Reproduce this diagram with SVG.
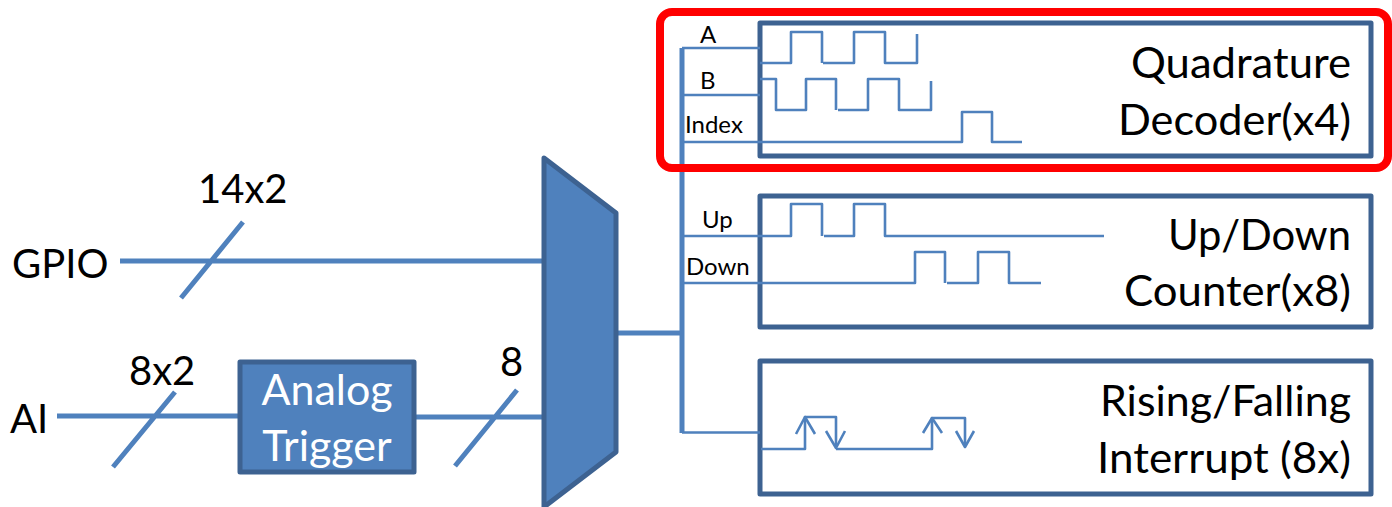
<svg xmlns="http://www.w3.org/2000/svg" width="1392" height="507" viewBox="0 0 1392 507">
<style>
text{font-family:"Lato","Open Sans","Liberation Sans",sans-serif;fill:#000}
.big{font-size:40px}
.right{font-size:42px;text-anchor:end}
.tr{font-size:43px;text-anchor:middle;fill:#fff}
.small{font-size:24px}
.box{fill:#fff;stroke:#3d6291;stroke-width:5;stroke-linejoin:round}
.fillbox{fill:#4f81bd;stroke:#3d6291;stroke-width:5;stroke-linejoin:round}
.bus{fill:none;stroke:#4f81bd;stroke-width:5;stroke-linejoin:round}
.sig{fill:none;stroke:#4f81bd;stroke-width:2.6;stroke-linejoin:round}
</style>
<rect width="1392" height="507" fill="#fff"/>
<g id="quadrature-decoder"><rect class="box" x="760" y="23" width="611" height="133"/>
<text class="right" x="1351" y="77.500" textLength="220" lengthAdjust="spacingAndGlyphs">Quadrature</text><text class="right" x="1351" y="134.500" textLength="233" lengthAdjust="spacingAndGlyphs">Decoder(x4)</text></g>
<g id="updown-counter"><rect class="box" x="760" y="196" width="611" height="131"/>
<text class="right" x="1351" y="249.500" textLength="183" lengthAdjust="spacingAndGlyphs">Up/Down</text><text class="right" x="1351" y="305.500" textLength="227" lengthAdjust="spacingAndGlyphs">Counter(x8)</text></g>
<g id="interrupt"><rect class="box" x="760" y="361" width="611" height="133"/>
<text class="right" x="1351" y="415.500" textLength="251" lengthAdjust="spacingAndGlyphs">Rising/Falling</text><text class="right" x="1351" y="472.500" textLength="254" lengthAdjust="spacingAndGlyphs">Interrupt (8x)</text></g>
<g id="connectors">
<path class="bus" d="M120 261H543M243 222L181 298M57 416H240M175 392L113 467M414 417H543M517 390L455 466M617 333H682M682 48V433"/>
<path class="sig" d="M682 48H760M682 95H760M682 142H962V112H992V142H1022M682 432.500H760"/>
<path class="sig" d="M760 63H791V32H822V63M823 63H854V32H885V63H917V34"/>
<path class="sig" d="M760 79H776V110H806V79H836V110M838 110H868V79H899V110H931V81"/>
<path class="sig" d="M682 236H791V204H822V236M824 236H854V204H885V236H1104"/>
<path class="sig" d="M682 283H915V252H945V283M947 283H978V252H1009V283H1041"/>
<path class="sig" d="M761 449H805V417H836V447M836 449H932V418H965V446"/>
<path class="sig" d="M796 434L805 417L815 434M826 431L836 448L845 431M923 433L932 418L942 433M956 431L965 447L974 431"/>
</g>
<g id="mux"><path class="fillbox" d="M544 158L616 213V452L544 507Z"/></g>
<g id="analog-trigger"><rect class="fillbox" x="240" y="362" width="174" height="110"/>
<text class="tr" x="327" y="405">Analog</text><text class="tr" x="327" y="461">Trigger</text></g>
<g id="labels">
<text class="big" x="12" y="278">GPIO</text>
<text class="big" x="198" y="203">14x2</text>
<text class="big" x="129" y="385">8x2</text>
<text class="big" x="10" y="433">AI</text>
<text class="big" x="500" y="376">8</text>
<text class="small" x="700" y="43">A</text>
<text class="small" x="700" y="89">B</text>
<text class="small" x="685" y="133">Index</text>
<text class="small" x="702" y="228">Up</text>
<text class="small" x="686" y="275">Down</text>
</g>
<g id="highlight"><rect x="660" y="12" width="728" height="156" rx="12" fill="none" stroke="#f00" stroke-width="8"/></g>
</svg>
